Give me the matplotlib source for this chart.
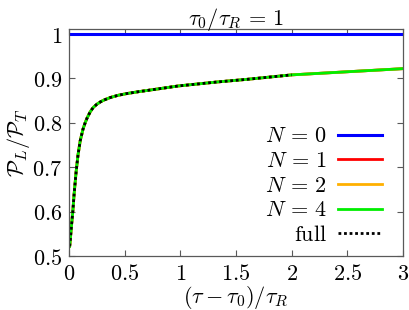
import matplotlib
matplotlib.use("Agg")
import matplotlib.pyplot as plt

plt.rcParams["mathtext.fontset"] = "cm"
plt.rcParams["font.family"] = "DejaVu Serif"

# values
x_vals = [0.005, 0.01, 0.02, 0.033, 0.045, 0.063, 0.08, 0.10, 0.125, 0.144, 0.16,
          0.19, 0.218, 0.25, 0.28, 0.31, 0.37, 0.44, 0.52, 0.62, 0.76, 0.98,
          1.33, 1.6, 2.0, 2.5, 3.0]
ratio_n4 = [0.522, 0.535, 0.565, 0.60, 0.64, 0.69, 0.728, 0.76, 0.786, 0.80, 0.81,
            0.825, 0.835, 0.842, 0.847, 0.851, 0.857, 0.862, 0.866, 0.870, 0.875,
            0.883, 0.892, 0.898, 0.908, 0.915, 0.922]
ratio_n1 = ratio_n4
ratio_n2 = ratio_n4
ratio_n0 = [1.0] * len(x_vals)
full_x = x_vals[:25]
full_y = ratio_n4[:25]

x_ticks = [0, 0.5, 1, 1.5, 2, 2.5, 3]
y_ticks = [0.5, 0.6, 0.7, 0.8, 0.9, 1.0]

fig = plt.figure(figsize=(4.09, 3.10), dpi=100)
ax = fig.add_axes([0.169, 0.174, 0.816, 0.732])

ax.plot([0] + x_vals[1:], ratio_n0, color="#0000ff", lw=2.2, label=r"$N\,=\,0$")
ax.plot(x_vals, ratio_n1, color="#ff0000", lw=2.0, label=r"$N\,=\,1$")
ax.plot(x_vals, ratio_n2, color="#ffb000", lw=2.0, label=r"$N\,=\,2$")
ax.plot(x_vals, ratio_n4, color="#00ee00", lw=2.0, label=r"$N\,=\,4$")
ax.plot(full_x, full_y, color="black", lw=2.0, ls=(0, (1, 1)),
        label=r"$\mathrm{full}$")

ax.set_xlim(0, 3)
ax.set_ylim(0.5, 1.011)
ax.set_xticks(x_ticks)
ax.set_xticklabels(["$%g$" % t for t in x_ticks])
ax.set_yticks(y_ticks)
ax.set_yticklabels(["$%g$" % t for t in y_ticks])
ax.tick_params(direction="in", top=True, right=True, length=4, width=0.8,
               color="0.35", labelsize=16, pad=5)
for s in ax.spines.values():
    s.set_color("0.35")
    s.set_linewidth(0.9)

ax.set_xlabel(r"$(\tau-\tau_0)/\tau_R$", fontsize=16)
ax.xaxis.set_label_coords(0.5, -0.125)
ax.set_ylabel(r"$\mathcal{P}_L/\mathcal{P}_T$", fontsize=16, labelpad=0)
ax.set_title(r"$\tau_0/\tau_R\,=\,1$", fontsize=16, pad=3)

ax.legend(loc="lower right", bbox_to_anchor=(0.972, -0.005), frameon=False,
          markerfirst=False, fontsize=16, handlelength=2.0, handletextpad=0.5,
          labelspacing=0.12, borderpad=0)

fig.savefig("out.png", dpi=100)
